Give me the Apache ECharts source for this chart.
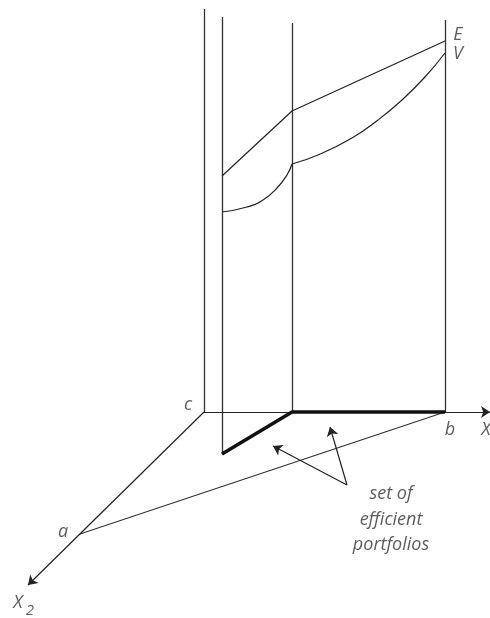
<!DOCTYPE html>
<html>
<head>
<meta charset="utf-8">
<style>
  html, body { margin: 0; padding: 0; background: #fff; }
  #chart { width: 490px; height: 618px; }
</style>
<script src="https://cdn.jsdelivr.net/npm/echarts@6/dist/echarts.min.js"></script>
</head>
<body>
<div id="chart"></div>
<script>
// coordinates are in diagram units, origin at corner c, y upwards
const corner = [0, 0]
const pointA = [-124, -122]
const pointB = [241, 0]
const axisX1End = [286, 0]
const axisX2End = [-176, -173]

// vertical lines: x, bottom, top
const uprightX = [0, 18, 88, 241]
const uprightBottom = [0, -42, 0, 0]
const uprightTop = [403, 395, 389, 392]

// expected return line E
const lineE = [[18, 236], [88, 301], [241, 371]]
// variance curve V (two pieces, kink at x=88)
const curveV1 = [[18, 200], [43, 205], [59, 212], [73, 224], [83, 237], [88, 248]]
const curveV2 = [[88, 248], [114, 257], [148, 274], [174, 292], [198, 312], [221, 335], [241, 359]]

// set of efficient portfolios (thick)
const efficientSet = [[18, -42], [88, 0], [241, 0]]

// pointer arrows from the caption
const arrowFrom = [143, -73]
const arrowTo = [[69, -34], [126, -15]]

// labels
const labels = [
    { name: 'E', value: [254, 377] },
    { name: 'V', value: [254, 358] },
    { name: 'c', value: [-16, 7] },
    { name: 'b', value: [246, -18] },
    { name: 'X', value: [282, -18] },
    { name: 'a', value: [-141, -120] },
    { name: 'X', value: [-186, -191] },
    { name: 'set of', value: [187, -82] },
    { name: 'efficient', value: [187, -108] },
    { name: 'portfolios', value: [187, -133] }
]
const subLabels = [
    { name: '2', value: [-174, -199] }
]

const ink = '#222'
const seg = (p, q) => ({ coords: [p, q] })

const uprights = uprightX.map((x, i) => seg([x, uprightBottom[i]], [x, uprightTop[i]]))

const textStyle = {
    show: true,
    formatter: '{b}',
    position: 'inside',
    color: '#333',
    fontFamily: 'Open Sans',
    fontStyle: 'italic',
    fontWeight: 'normal',
    fontSize: 18
}

const myChart = echarts.init(document.getElementById('chart'))

const option = {
    animation: false,
    backgroundColor: '#fff',
    grid: { left: 0, right: 0, top: 0, bottom: 0 },
    xAxis: { type: 'value', min: -204, max: 286, show: false },
    yAxis: { type: 'value', min: -206, max: 412, show: false },
    series: [
        {
            type: 'lines',
            coordinateSystem: 'cartesian2d',
            symbol: 'none',
            lineStyle: { color: '#333', width: 1.3, opacity: 1 },
            data: uprights.concat([seg(pointA, pointB)])
        },
        {
            type: 'lines',
            coordinateSystem: 'cartesian2d',
            symbol: ['none', 'arrow'],
            symbolSize: 9,
            lineStyle: { color: ink, width: 1.2, opacity: 1 },
            data: [seg(corner, axisX1End), seg(corner, axisX2End)]
                .concat(arrowTo.map(t => seg(arrowFrom, t)))
        },
        {
            type: 'line',
            data: lineE,
            symbol: 'none',
            lineStyle: { color: ink, width: 1.2 }
        },
        {
            type: 'line',
            data: curveV1,
            smooth: 0.5,
            symbol: 'none',
            lineStyle: { color: ink, width: 1.2 }
        },
        {
            type: 'line',
            data: curveV2,
            smooth: 0.5,
            symbol: 'none',
            lineStyle: { color: ink, width: 1.2 }
        },
        {
            type: 'line',
            data: efficientSet,
            symbol: 'none',
            lineStyle: { color: '#111', width: 3.5 }
        },
        {
            type: 'scatter',
            data: labels,
            symbolSize: 0,
            label: textStyle
        },
        {
            type: 'scatter',
            data: subLabels,
            symbolSize: 0,
            label: Object.assign({}, textStyle, { fontSize: 15 })
        }
    ]
}

myChart.setOption(option)
</script>
</body>
</html>
